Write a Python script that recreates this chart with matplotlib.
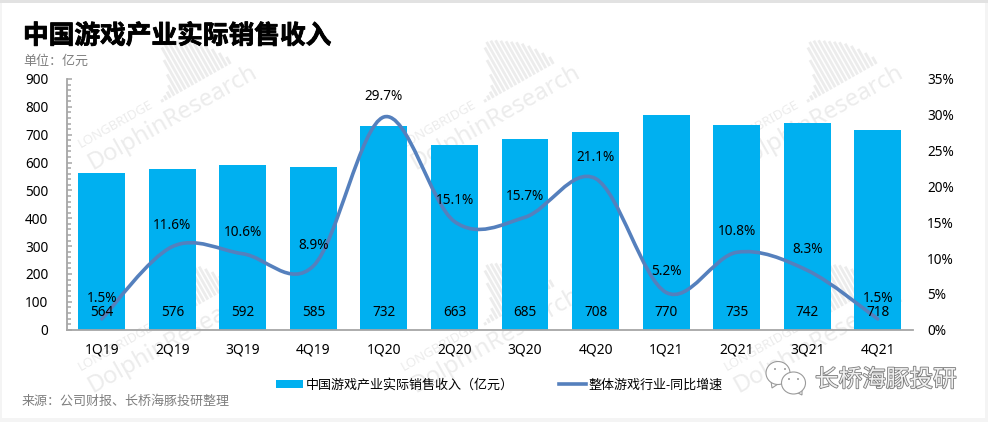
import numpy as np
import matplotlib
matplotlib.use('Agg')
import matplotlib.pyplot as plt
import matplotlib.patheffects as pe
from matplotlib.lines import Line2D
from matplotlib.patches import PathPatch, Patch, Rectangle, Ellipse, Polygon
from matplotlib.path import Path
from matplotlib.ticker import MultipleLocator, FuncFormatter

plt.rcParams['font.family'] = ['Noto Sans', 'Noto Sans CJK SC', 'DejaVu Sans']

quarters = ['1Q19', '2Q19', '3Q19', '4Q19', '1Q20', '2Q20', '3Q20', '4Q20', '1Q21', '2Q21', '3Q21', '4Q21']
revenue = [564, 576, 592, 585, 732, 663, 685, 708, 770, 735, 742, 718]
growth = [1.5, 11.6, 10.6, 8.9, 29.7, 15.1, 15.7, 21.1, 5.2, 10.8, 8.3, 1.5]

W, H = 988, 422
BAR_COLOR = '#00b0f0'
LINE_COLOR = '#5580bd'
AXIS_COLOR = '#a6a6a6'
MARK_COLOR = '#ececec'
LOGO_COLOR = '#9a9a9a'
# 水印波形的高度，单位是像素
wave_heights = [3, 5, 7, 12, 22, 36, 48, 52, 51, 49, 46, 43, 40, 37, 33, 28, 22, 15, 8]


def fx(x):
    return x / W


def fy(y):
    return 1 - y / H


def smooth_path(xs, ys):
    # 和Excel的平滑折线一样，用贝塞尔曲线穿过每个数据点
    xs = np.asarray(xs, float)
    ys = np.asarray(ys, float)
    n = len(xs)
    verts = [(xs[0], ys[0])]
    codes = [Path.MOVETO]
    for i in range(n - 1):
        a = max(i - 1, 0)
        b = min(i + 2, n - 1)
        verts.append((xs[i] + (xs[i + 1] - xs[a]) / 6, ys[i] + (ys[i + 1] - ys[a]) / 6))
        verts.append((xs[i + 1] - (xs[b] - xs[i]) / 6, ys[i + 1] - (ys[b] - ys[i]) / 6))
        verts.append((xs[i + 1], ys[i + 1]))
        codes += [Path.CURVE4] * 3
    return Path(verts, codes)


def watermark(fig, x0, y0):
    # x0, y0 是 DolphinResearch 起点的像素位置
    ang = np.radians(29.5)
    ux, uy = np.cos(ang), -np.sin(ang)
    nx, ny = -np.sin(ang), -np.cos(ang)
    fig.text(fx(x0), fy(y0), 'DolphinResearch', fontsize=17.2, color=MARK_COLOR, rotation=29.5,
             rotation_mode='anchor', ha='left', va='baseline', zorder=-5)
    fig.text(fx(x0 - 12), fy(y0 - 22), 'LONGBRIDGE', fontsize=9.5, color=MARK_COLOR, rotation=29.5,
             rotation_mode='anchor', ha='left', va='baseline', zorder=-5)
    bx, by = x0 + 70, y0 - 68
    for i, h in enumerate(wave_heights):
        px = bx + ux * i * 4.3
        py = by + uy * i * 4.3
        fig.add_artist(Line2D([fx(px), fx(px + nx * h)], [fy(py), fy(py + ny * h)], color=MARK_COLOR,
                              lw=2.0, transform=fig.transFigure, zorder=-5, solid_capstyle='butt'))


def bubble(fig, cx, cy, w, h, tail, eyes, z):
    # 微信气泡：尾巴、椭圆、两只眼睛
    pts = [(fx(a), fy(b)) for a, b in tail]
    fig.add_artist(Polygon(pts, closed=True, transform=fig.transFigure, fc='white', ec=LOGO_COLOR, lw=0.8, zorder=z))
    fig.add_artist(Ellipse((fx(cx), fy(cy)), w / W, h / H, transform=fig.transFigure, fc='white', ec=LOGO_COLOR,
                           lw=0.8, zorder=z))
    for ex, ey in eyes:
        fig.add_artist(Ellipse((fx(ex), fy(ey)), 2 / W, 2 / H, transform=fig.transFigure, fc=LOGO_COLOR, ec='none', zorder=z))


fig = plt.figure(figsize=(W / 100, H / 100), dpi=100, facecolor='#f4f4f4')
fig.add_artist(Rectangle((fx(2), fy(418)), fx(983), 416 / H, transform=fig.transFigure, fc='white', ec='none', zorder=-10))
fig.add_artist(Rectangle((0, fy(2.5)), 1, 2.5 / H, transform=fig.transFigure, fc='#e2e2e2', ec='none', zorder=-9))

for x0 in (93, 416, 739):
    for y0 in (170, 393):
        watermark(fig, x0, y0)

ax = fig.add_axes([fx(66.5), fy(329.7), fx(846.5), 250.7 / H])
ax.patch.set_alpha(0)
x = np.arange(len(quarters))
ax.bar(x, revenue, width=0.665, color=BAR_COLOR, zorder=2)
ax.set_xlim(-0.5, 11.5)
ax.set_ylim(0, 900)
ax.set_xticks(x)
ax.set_xticklabels(quarters)
ax.yaxis.set_major_locator(MultipleLocator(100))
ax.yaxis.set_minor_locator(MultipleLocator(20))
ax.tick_params(axis='x', length=0, pad=9.5, labelsize=10, labelcolor='black')
ax.tick_params(axis='y', which='major', direction='in', length=3.5, width=1.1, color=AXIS_COLOR, pad=13, labelsize=9.8)
ax.tick_params(axis='y', which='minor', direction='in', length=2.7, width=1.1, color=AXIS_COLOR)
for s in ('top', 'right'):
    ax.spines[s].set_visible(False)
for s in ('left', 'bottom'):
    ax.spines[s].set_color(AXIS_COLOR)
    ax.spines[s].set_linewidth(1.3)

ax2 = ax.twinx()
ax2.patch.set_alpha(0)
ax2.set_ylim(0, 35)
ax2.yaxis.set_major_locator(MultipleLocator(5))
ax2.yaxis.set_major_formatter(FuncFormatter(lambda v, p: '%d%%' % v))
ax2.tick_params(axis='y', length=0, pad=10, labelsize=9.8)
for s in ax2.spines.values():
    s.set_visible(False)
ax2.add_patch(PathPatch(smooth_path(x, growth), fill=False, ec=LINE_COLOR, lw=2.6, capstyle='round', zorder=4))
for i, v in enumerate(growth):
    ax2.annotate('%.1f%%' % v, (i, v), xytext=(0, 15), textcoords='offset points', ha='center', va='center',
                 fontsize=9.8, color='black', zorder=6)
# 柱子的数值要压在折线上面，所以画在第二个坐标轴里
for i, v in enumerate(revenue):
    ax2.text(i, 63, str(v), transform=ax.transData, ha='center', va='center', fontsize=9.8, color='black', zorder=6)

fig.text(fx(23), fy(36), '中国游戏产业实际销售收入', fontsize=18.5, fontweight='bold', color='black', ha='left', va='center',
         family=['Noto Sans CJK SC'], path_effects=[pe.withStroke(linewidth=0.6, foreground='black')])
fig.text(fx(23), fy(61), '单位：亿元', fontsize=9.4, color='#7f7f7f', ha='left', va='center', family=['Noto Sans CJK SC'])
fig.text(fx(22), fy(401), '来源：公司财报、长桥海豚投研整理', fontsize=9.4, color='#7f7f7f', ha='left', va='center',
         family=['Noto Sans CJK SC'])

handles = [Patch(fc=BAR_COLOR, ec='none'), Line2D([0], [0], color=LINE_COLOR, lw=2.6)]
labels = ['中国游戏产业实际销售收入（亿元）', '整体游戏行业-同比增速']
fig.legend(handles, labels, loc='center left', bbox_to_anchor=(fx(276), fy(385)), ncols=2, frameon=False, fontsize=9.4,
           handlelength=2.1, handleheight=0.6, handletextpad=0.15, columnspacing=3.5, borderpad=0, borderaxespad=0)

# 右下角公众号标识
bubble(fig, 778, 373, 24, 23, [(771, 381), (772, 388), (778, 384)], [(775, 369), (785, 369)], 8)
bubble(fig, 793.5, 383, 24, 22, [(796, 392), (802, 395), (802, 388)], [(789, 379), (798, 379)], 9)
fig.text(fx(815), fy(380), '长桥海豚投研', fontsize=17, color='#f0f0f0', ha='left', va='center', zorder=10,
         family=['Noto Sans CJK SC'], path_effects=[pe.withStroke(linewidth=1.2, foreground='#7a7a7a')])

fig.savefig('out.png', dpi=100, facecolor=fig.get_facecolor())
